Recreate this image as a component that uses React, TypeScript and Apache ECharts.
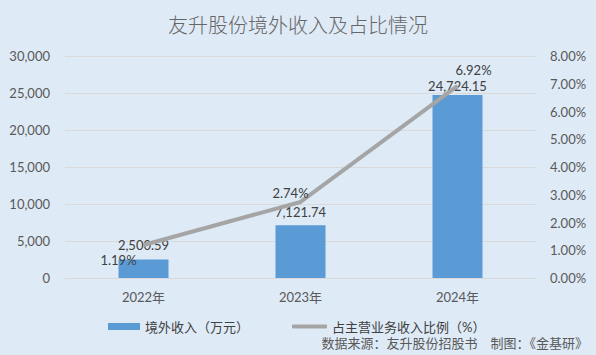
import React, { useEffect, useRef } from "react";
import * as echarts from "echarts";

const categories = ["2022年", "2023年", "2024年"];
const overseasRevenue = [2500.59, 7121.74, 24724.15];
const shareOfRevenue = [1.19, 2.74, 6.92];
const leftTicks = { min: 0, max: 30000, interval: 5000 };
const rightTicks = { min: 0, max: 8, interval: 1 };

const barLabelOffsets = [[0, -3], [0, -2], [0, 2]];
const lineLabelOffsets = [[-25, 4], [-10, 3], [16, -4]];

const FONT = "Lato, 'Noto Sans CJK SC', sans-serif";
const BAR_NAME = "境外收入（万元）";
const LINE_NAME = "占主营业务收入比例（%）";

export default function App() {
  const ref = useRef<HTMLDivElement>(null);
  useEffect(() => {
    if (!ref.current) return;
    const chart = echarts.init(ref.current, undefined, { renderer: "svg" });
    const fmtNum = (v: number) =>
      v.toLocaleString("en-US", { minimumFractionDigits: 2, maximumFractionDigits: 2 });
    const legendText = { fontSize: 13, color: "#404040", fontFamily: FONT };
    chart.setOption({
      animation: false,
      backgroundColor: "#deeaf6",
      textStyle: { fontFamily: FONT },
      title: {
        text: "友升股份境外收入及占比情况",
        left: "center",
        top: 9,
        textStyle: { fontSize: 20, fontWeight: 300, color: "#666666", fontFamily: "'Noto Sans CJK SC', sans-serif" },
      },
      grid: { left: 65, right: 60, top: 56, bottom: 77 },
      legend: [
        {
          left: 103,
          top: 315,
          itemWidth: 32,
          itemHeight: 7,
          textStyle: legendText,
          data: [{ name: BAR_NAME, icon: "rect" }],
        },
        {
          left: 287,
          top: 315,
          itemWidth: 35,
          itemHeight: 4,
          textStyle: legendText,
          data: [{ name: LINE_NAME, icon: "roundRect" }],
        },
      ],
      xAxis: {
        type: "category",
        data: categories,
        axisTick: { show: false },
        axisLine: { lineStyle: { color: "#d9d9d9" } },
        axisLabel: { color: "#595959", fontSize: 13, margin: 12 },
      },
      yAxis: [
        {
          type: "value",
          ...leftTicks,
          axisLabel: {
            color: "#595959",
            fontSize: 13,
            margin: 15,
            formatter: (v: number) => v.toLocaleString("en-US"),
          },
          splitLine: { lineStyle: { color: "#d9d9d9" } },
          axisLine: { show: false },
          axisTick: { show: false },
        },
        {
          type: "value",
          ...rightTicks,
          axisLabel: {
            color: "#595959",
            fontSize: 13,
            margin: 14,
            formatter: (v: number) => v.toFixed(2) + "%",
          },
          splitLine: { show: false },
          axisLine: { show: false },
          axisTick: { show: false },
        },
      ],
      series: [
        {
          name: BAR_NAME,
          type: "bar",
          barWidth: 50,
          itemStyle: { color: "#5b9bd5" },
          data: overseasRevenue.map((v, i) => ({
            value: v,
            label: { offset: barLabelOffsets[i] },
          })),
          label: {
            show: true,
            position: "top",
            color: "#404040",
            fontSize: 13,
            formatter: (p: any) => fmtNum(p.value),
          },
          z: 2,
        },
        {
          name: LINE_NAME,
          type: "line",
          yAxisIndex: 1,
          symbol: "circle",
          symbolSize: 0,
          showSymbol: true,
          lineStyle: { color: "#a5a5a5", width: 4 },
          itemStyle: { color: "#a5a5a5" },
          data: shareOfRevenue.map((v, i) => ({
            value: v,
            label: { offset: lineLabelOffsets[i], position: i === 0 ? "bottom" : "top" },
          })),
          label: {
            show: true,
            color: "#404040",
            fontSize: 13,
            formatter: (p: any) => p.value.toFixed(2) + "%",
          },
          z: 3,
        },
      ],
      graphic: [
        {
          type: "text",
          right: 8,
          top: 336,
          style: {
            text: "数据来源：友升股份招股书　制图：《金基研》",
            fontSize: 13,
            fill: "#595959",
            fontFamily: FONT,
          },
        },
      ],
    });
    return () => chart.dispose();
  }, []);
  return <div ref={ref} style={{ width: 596, height: 355, position: "absolute", left: 0, top: 0 }} />;
}
